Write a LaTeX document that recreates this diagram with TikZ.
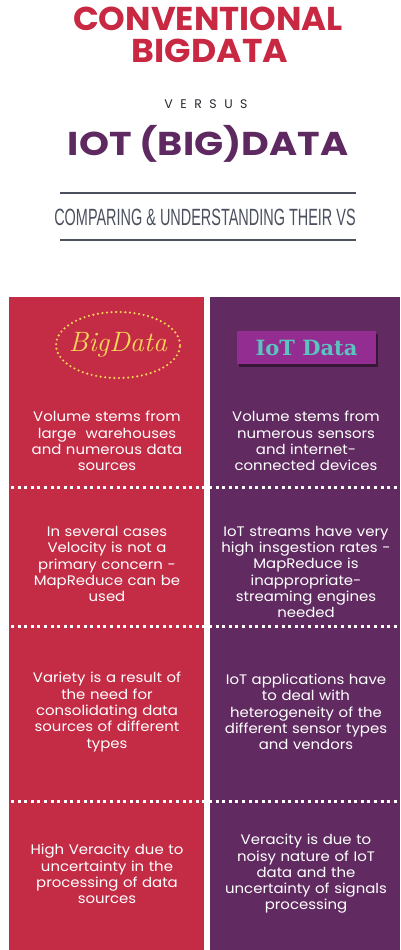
\documentclass[tikz,border=0pt]{standalone}
\usepackage{fontspec}
\usetikzlibrary{shapes.geometric}
\setmainfont{Poppins}
\newfontfamily\bodyfont[FakeStretch=1.08]{Poppins}
\newfontfamily\condfont{Liberation Sans}
\newfontfamily\slabfont{DejaVu Serif}
\newfontfamily\lmfont{Latin Modern Roman}
\definecolor{titlered}{RGB}{200,40,66}
\definecolor{titlepurple}{RGB}{94,40,96}
\definecolor{panelred}{RGB}{196,43,69}
\definecolor{panelpurple}{RGB}{97,43,97}
\definecolor{rulegray}{RGB}{75,80,95}
\definecolor{darktext}{RGB}{40,42,52}
\definecolor{iotbox}{RGB}{147,45,146}
\definecolor{iotteal}{RGB}{92,196,190}
\definecolor{goldy}{RGB}{246,214,90}
\tikzset{
  bodytext/.style={text=white, align=center, text width=190pt, inner sep=0pt,
    font=\bodyfont\fontsize{13.8}{16.3}\selectfont},
  titletext/.style={inner sep=0pt, font=\bfseries\fontsize{33}{33}\selectfont},
  sepdots/.style={white, line width=3pt, dash pattern=on 3pt off 3.6pt},
  hrule/.style={rulegray, line width=1.6pt},
}
\begin{document}
\begin{tikzpicture}[x=1pt,y=-1pt]
\useasboundingbox (0,0) rectangle (400,950);
\fill[white] (0,0) rectangle (400,950);
% titles
\node[titletext, text=titlered] (t1) at (208,19) {\scalebox{1.027}[1]{CONVENTIONAL}};
\node[titletext, text=titlered] (t2) at (210,51) {\scalebox{1.05}[1]{BIGDATA}};
\node[text=darktext, font=\fontsize{12.5}{12.5}\selectfont, inner sep=0pt] (vs) at (206,104) {V\hspace{7.5pt}E\hspace{7.5pt}R\hspace{7.5pt}S\hspace{7.5pt}U\hspace{7.5pt}S};
\node[titletext, text=titlepurple] (t3) at (208,144) {\scalebox{1.157}[1]{IOT (BIG)DATA}};
\coordinate (r1a) at (60,193); \coordinate (r1b) at (356,193);
\coordinate (r2a) at (60,240); \coordinate (r2b) at (356,240);
\draw[hrule] (r1a) -- (r1b);
\draw[hrule] (r2a) -- (r2b);
\node[text=rulegray, inner sep=0pt] (sub) at (205,217) {\scalebox{0.615}[1]{\condfont\fontsize{23.5}{23.5}\selectfont COMPARING \& UNDERSTANDING THEIR VS}};
% panels
\fill[panelred] (9,297) rectangle (204,950);
\fill[panelpurple] (210,297) rectangle (400,950);
% BigData ellipse
\node[draw=goldy, ellipse, minimum width=124pt, minimum height=66pt, line width=2.4pt,
  dash pattern=on 0pt off 4.6pt, line cap=round, inner sep=0pt] (bd) at (118,345) {};
\node[text=goldy, font=\lmfont\itshape\fontsize{28}{28}\selectfont, inner sep=0pt] at (bd) {BigData};
% IoT box
\fill[black!45!panelpurple] (239,334) rectangle (378,367);
\node[fill=iotbox, minimum width=139pt, minimum height=33pt, inner sep=0pt] (iot) at (306.5,347.5) {};
\node[text=iotteal, font=\slabfont\bfseries\fontsize{21}{21}\selectfont, inner sep=0pt] at (iot) {IoT Data};
% separators
\coordinate (s1a) at (11,487); \coordinate (s1b) at (400,487);
\coordinate (s2a) at (11,626); \coordinate (s2b) at (400,626);
\coordinate (s3a) at (11,801); \coordinate (s3b) at (400,801);
\draw[sepdots] (s1a) -- (s1b);
\draw[sepdots] (s2a) -- (s2b);
\draw[sepdots] (s3a) -- (s3b);
% texts
\node[bodytext] (l1) at (107,441) {Volume stems from\\large\ \ warehouses\\and numerous data\\sources};
\node[bodytext] (r1) at (306,441) {Volume stems from\\numerous sensors\\and internet-\\connected devices};
\node[bodytext] (l2) at (107,564) {In several cases\\Velocity is not a\\primary concern -\\MapReduce can be\\used};
\node[bodytext] (r2) at (306,572) {IoT streams have very\\high insgestion rates -\\MapReduce is\\inappropriate-\\streaming engines\\needed};
\node[bodytext] (l3) at (107,712) {Variety is a result of\\the need for\\consolidating data\\sources of different\\types};
\node[bodytext] (r3) at (306,712) {IoT applications have\\to deal with\\heterogeneity of the\\different sensor types\\and vendors};
\node[bodytext] (l4) at (107,874) {High Veracity due to\\uncertainty in the\\processing of data\\sources};
\node[bodytext] (r4) at (306,874) {Veracity is due to\\noisy nature of IoT\\data and the\\uncertainty of signals\\processing};
\end{tikzpicture}
\end{document}
